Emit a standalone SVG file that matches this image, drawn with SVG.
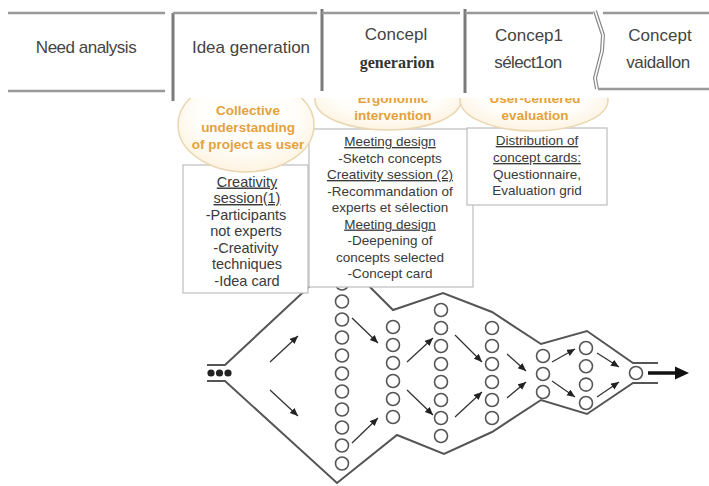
<svg xmlns="http://www.w3.org/2000/svg" width="709" height="486" viewBox="0 0 709 486">
<style>
.hl{stroke:#999;stroke-width:2.5;fill:none}
.vl{stroke:#7a7a7a;stroke-width:3;fill:none}
.ht{font-family:"Liberation Sans",Arial,sans-serif;font-size:17px;fill:#444;text-anchor:middle}
.hs{font-family:"Liberation Serif","Times New Roman",serif;font-size:16px;font-weight:bold;fill:#333;text-anchor:middle}
.bub{fill:url(#bg);stroke:#ead6b0;stroke-width:1.5}
.bt{font-family:"Liberation Sans",Arial,sans-serif;font-size:13.5px;font-weight:bold;fill:#e4a23a;text-anchor:middle}
.box{fill:#fff;stroke:#bdbdbd;stroke-width:1.2}
.tx{font-family:"Liberation Sans",Arial,sans-serif;font-size:13.5px;fill:#3a3a3a;text-anchor:middle}
.t1{font-size:14.5px}
.u{text-decoration:underline}
.fl{fill:none;stroke:#555;stroke-width:2}
.c{fill:#fff;stroke:#555;stroke-width:1.6}
.ar{stroke:#333;stroke-width:1.3;fill:none;marker-end:url(#ah)}
</style>
<defs>
<marker id="ah" markerUnits="userSpaceOnUse" markerWidth="9" markerHeight="8" refX="8" refY="3.5" orient="auto">
<path d="M0,0 L8,3.5 L0,7 z" fill="#222"/>
</marker>
<radialGradient id="bg" cx="0.5" cy="0.4" r="0.6">
<stop offset="0.6" stop-color="#fffefb"/>
<stop offset="1" stop-color="#fdf3e0"/>
</radialGradient>
<clipPath id="cb"><rect x="0" y="98" width="709" height="388"/></clipPath>
</defs>
<rect width="709" height="486" fill="#fff"/>

<g id="connectors">
<path class="fl" d="M207,365 L225,365 L313,283 L366,283 L393,310 L443,293 L492,312 L541,344 L587,331 L633,363 L658,363"/>
<path class="fl" d="M207,381 L225,381 L337,483 L397,435 L444,454 L492,432 L541,400 L587,414 L633,383 L658,383"/>
<line class="ar" x1="270" y1="362" x2="298" y2="336"/>
<line class="ar" x1="270" y1="390" x2="298" y2="416"/>
<line class="ar" x1="352" y1="318" x2="378" y2="343"/>
<line class="ar" x1="352" y1="443" x2="378" y2="418"/>
<line class="ar" x1="407" y1="362" x2="433" y2="338"/>
<line class="ar" x1="407" y1="390" x2="433" y2="415"/>
<line class="ar" x1="455" y1="335" x2="482" y2="362"/>
<line class="ar" x1="455" y1="417" x2="482" y2="392"/>
<line class="ar" x1="507" y1="354" x2="526" y2="371"/>
<line class="ar" x1="507" y1="398" x2="526" y2="382"/>
<line class="ar" x1="552" y1="362" x2="575" y2="349"/>
<line class="ar" x1="552" y1="381" x2="575" y2="397"/>
<line class="ar" x1="597" y1="353" x2="619" y2="367"/>
<line class="ar" x1="597" y1="397" x2="619" y2="382"/>
<line x1="648" y1="373" x2="678" y2="373" stroke="#111" stroke-width="3.5"/>
<polygon points="675,366.5 689,373 675,379.5" fill="#111"/>
</g>

<g id="input">
<circle cx="211" cy="373" r="3.6" fill="#222"/>
<circle cx="219.5" cy="373" r="3.6" fill="#222"/>
<circle cx="228" cy="373" r="3.6" fill="#222"/>
</g>

<g id="col1">
<circle class="c" cx="342" cy="283.5" r="6.5"/><circle class="c" cx="342" cy="301.5" r="6.5"/><circle class="c" cx="342" cy="319.5" r="6.5"/><circle class="c" cx="342" cy="337.5" r="6.5"/><circle class="c" cx="342" cy="355.5" r="6.5"/><circle class="c" cx="342" cy="373.5" r="6.5"/><circle class="c" cx="342" cy="391.5" r="6.5"/><circle class="c" cx="342" cy="409.5" r="6.5"/><circle class="c" cx="342" cy="427.5" r="6.5"/><circle class="c" cx="342" cy="445.5" r="6.5"/><circle class="c" cx="342" cy="463.5" r="6.5"/>
</g>
<g id="col2">
<circle class="c" cx="393" cy="327" r="6.5"/><circle class="c" cx="393" cy="345" r="6.5"/><circle class="c" cx="393" cy="363" r="6.5"/><circle class="c" cx="393" cy="381" r="6.5"/><circle class="c" cx="393" cy="399" r="6.5"/><circle class="c" cx="393" cy="417" r="6.5"/>
</g>
<g id="col3">
<circle class="c" cx="441" cy="310" r="6.5"/><circle class="c" cx="441" cy="328" r="6.5"/><circle class="c" cx="441" cy="346" r="6.5"/><circle class="c" cx="441" cy="364" r="6.5"/><circle class="c" cx="441" cy="382" r="6.5"/><circle class="c" cx="441" cy="400" r="6.5"/><circle class="c" cx="441" cy="418" r="6.5"/><circle class="c" cx="441" cy="436" r="6.5"/>
</g>
<g id="col4">
<circle class="c" cx="492" cy="328" r="6.5"/><circle class="c" cx="492" cy="346" r="6.5"/><circle class="c" cx="492" cy="364" r="6.5"/><circle class="c" cx="492" cy="382" r="6.5"/><circle class="c" cx="492" cy="400" r="6.5"/><circle class="c" cx="492" cy="418" r="6.5"/>
</g>
<g id="col5">
<circle class="c" cx="543" cy="356" r="6.5"/><circle class="c" cx="543" cy="374" r="6.5"/><circle class="c" cx="543" cy="392" r="6.5"/>
</g>
<g id="col6">
<circle class="c" cx="586" cy="348" r="6.5"/><circle class="c" cx="586" cy="366.3" r="6.5"/><circle class="c" cx="586" cy="384.6" r="6.5"/><circle class="c" cx="586" cy="403" r="6.5"/>
</g>
<g id="col7">
<circle class="c" cx="636" cy="373" r="6.5"/>
</g>

<g id="header">
<line class="hl" x1="8" y1="13" x2="165" y2="13"/>
<line class="hl" x1="8" y1="91" x2="165" y2="91"/>
<text class="ht" x="86" y="53" letter-spacing="-0.5">Need analysis</text>
<line class="vl" x1="173" y1="13" x2="173" y2="101"/>
<line class="hl" x1="173" y1="13" x2="317" y2="13"/>
<text class="ht" x="251" y="53">Idea generation</text>
<line class="vl" x1="322" y1="9" x2="322" y2="91"/>
<line class="hl" x1="322" y1="13" x2="460" y2="13"/>
<text class="ht" x="396" y="40">Concepl</text>
<text class="hs" x="397" y="68">generarion</text>
<line class="vl" x1="465" y1="9" x2="465" y2="93"/>
<line class="hl" x1="465" y1="13" x2="593" y2="13"/>
<text class="ht" x="529" y="41">Concep1</text>
<text class="ht" x="528" y="68" letter-spacing="-0.6">sélect1on</text>
<path d="M595,11 L603,35 L602,51 L595,78 L597,89" fill="none" stroke="#888" stroke-width="4"/>
<path d="M595,11 L603,35 L602,51 L595,78 L597,89" fill="none" stroke="#fff" stroke-width="1.6"/>
<line class="hl" x1="603" y1="13" x2="709" y2="13"/>
<line class="hl" x1="598" y1="89" x2="709" y2="89"/>
<text class="ht" x="660" y="41">Concept</text>
<text class="ht" x="658" y="68" letter-spacing="-0.4">vaidallon</text>
</g>

<g id="box2">
<rect class="box" x="309" y="129" width="164" height="158"/>
<text class="tx u" x="390" y="146">Meeting design</text>
<text class="tx" x="390" y="162.5">-Sketch concepts</text>
<text class="tx u" x="390" y="179">Creativity session (2)</text>
<text class="tx" x="390" y="195.5">-Recommandation of</text>
<text class="tx" x="390" y="212">experts et sélection</text>
<text class="tx u" x="390" y="228.5">Meeting design</text>
<text class="tx" x="390" y="245">-Deepening of</text>
<text class="tx" x="390" y="261.5">concepts selected</text>
<text class="tx" x="390" y="278">-Concept card</text>
</g>
<g id="box1">
<rect class="box" x="183" y="165" width="125" height="128"/>
<text class="tx t1 u" x="247" y="186.5">Creativity</text>
<text class="tx t1 u" x="247" y="203">session(1)</text>
<text class="tx t1" x="246" y="219.5">-Participants</text>
<text class="tx t1" x="246" y="236">not experts</text>
<text class="tx t1" x="246" y="252.5">-Creativity</text>
<text class="tx t1" x="247" y="269">techniques</text>
<text class="tx t1" x="247" y="286">-Idea card</text>
</g>
<g id="box3">
<rect class="box" x="467" y="128" width="140" height="77"/>
<text class="tx u" x="537" y="145">Distribution of</text>
<text class="tx u" x="537" y="162">concept cards:</text>
<text class="tx" x="537" y="179">Questionnaire,</text>
<text class="tx" x="537" y="195">Evaluation grid</text>
</g>

<g id="bubble1" clip-path="url(#cb)">
<ellipse class="bub" cx="246" cy="125" rx="68" ry="47"/>
<text class="bt" x="248" y="115">Collective</text>
<text class="bt" x="248" y="132">understanding</text>
<text class="bt" x="248" y="149">of project as user</text>
</g>
<g id="bubble2" clip-path="url(#cb)">
<ellipse class="bub" cx="388" cy="100" rx="73" ry="30"/>
<text class="bt" x="393" y="103">Ergonomic</text>
<text class="bt" x="393" y="120">intervention</text>
</g>
<g id="bubble3" clip-path="url(#cb)">
<ellipse class="bub" cx="534" cy="100" rx="74" ry="31"/>
<text class="bt" x="535" y="103">User-centered</text>
<text class="bt" x="535" y="120">evaluation</text>
</g>
</svg>
